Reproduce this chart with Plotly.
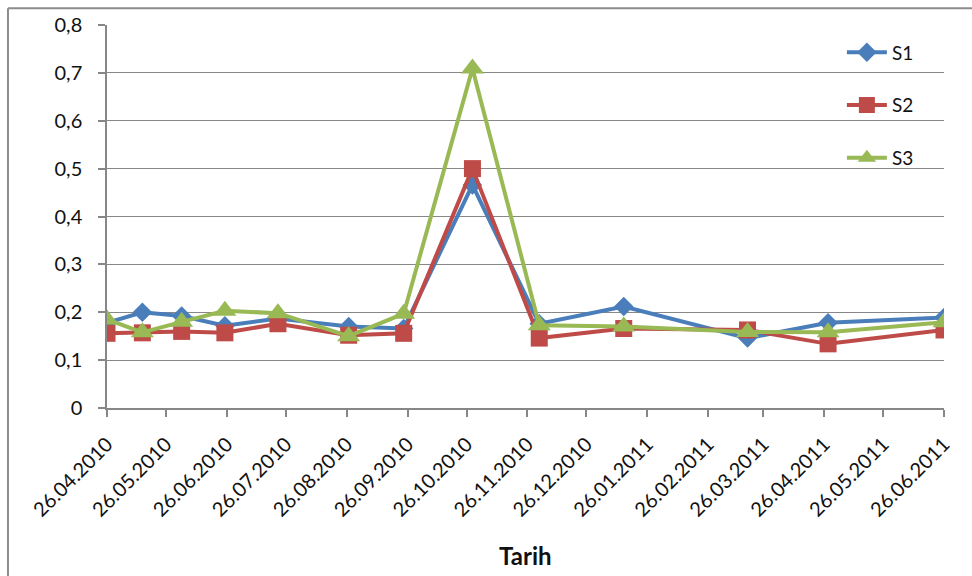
import plotly.graph_objects as go

# Sampling dates
dates = [
    "2010-04-26", "2010-05-14", "2010-06-03", "2010-06-25", "2010-07-22",
    "2010-08-27", "2010-09-24", "2010-10-29", "2010-12-02", "2011-01-14",
    "2011-03-18", "2011-04-28", "2011-06-26",
]

s1 = [0.178, 0.200, 0.192, 0.172, 0.187, 0.170, 0.166, 0.466, 0.176, 0.212, 0.146, 0.178, 0.189]
s2 = [0.156, 0.157, 0.160, 0.157, 0.176, 0.152, 0.156, 0.500, 0.146, 0.166, 0.163, 0.134, 0.163]
s3 = [0.185, 0.158, 0.180, 0.203, 0.198, 0.150, 0.197, 0.709, 0.173, 0.170, 0.159, 0.158, 0.179]

series_names = ["S1", "S2", "S3"]
colors = ["#4A7EBB", "#BE4B48", "#98B954"]
symbols = ["diamond", "square", "triangle-up"]
sizes = [15, 17, 20]

x_tick_dates = [
    "2010-04-26", "2010-05-26", "2010-06-26", "2010-07-26", "2010-08-26",
    "2010-09-26", "2010-10-26", "2010-11-26", "2010-12-26", "2011-01-26",
    "2011-02-26", "2011-03-26", "2011-04-26", "2011-05-26", "2011-06-26",
]
x_tick_labels = [
    "26.04.2010", "26.05.2010", "26.06.2010", "26.07.2010", "26.08.2010",
    "26.09.2010", "26.10.2010", "26.11.2010", "26.12.2010", "26.01.2011",
    "26.02.2011", "26.03.2011", "26.04.2011", "26.05.2011", "26.06.2011",
]
y_tick_vals = [0, 0.1, 0.2, 0.3, 0.4, 0.5, 0.6, 0.7, 0.8]
y_tick_labels = ["0", "0,1", "0,2", "0,3", "0,4", "0,5", "0,6", "0,7", "0,8"]

FONT = "Lato, 'Liberation Sans', sans-serif"
GRID = "#878787"

fig = go.Figure()
for name, vals, col, sym, sz in zip(series_names, [s1, s2, s3], colors, symbols, sizes):
    fig.add_trace(go.Scatter(
        x=dates, y=vals, name=name, mode="lines+markers",
        line=dict(color=col, width=4),
        marker=dict(symbol=sym, size=sz, color=col, line=dict(width=0)),
        legendgroup=name,
    ))

fig.update_layout(
    width=972, height=576,
    margin=dict(l=107, r=28, t=20, b=168),
    paper_bgcolor="white", plot_bgcolor="white",
    font=dict(family=FONT, color="#111111"),
    showlegend=True,
    legend=dict(
        x=0.878, y=0.978, xanchor="left", yanchor="top",
        bgcolor="rgba(0,0,0,0)", font=dict(size=19, family=FONT),
        tracegroupgap=25, itemwidth=40,
    ),
    xaxis=dict(
        type="date",
        range=["2010-04-26", "2011-06-26"],
        tickvals=x_tick_dates, ticktext=x_tick_labels,
        tickangle=-45, tickfont=dict(size=20, family=FONT),
        ticks="outside", ticklen=7, tickcolor=GRID, tickwidth=1.5,
        ticklabelstandoff=8,
        showline=True, linecolor=GRID, linewidth=1.5,
        showgrid=False, zeroline=False,
    ),
    yaxis=dict(
        range=[0, 0.8],
        tickvals=y_tick_vals, ticktext=y_tick_labels,
        tickfont=dict(size=20, family=FONT),
        ticks="outside", ticklen=7, tickcolor=GRID, tickwidth=1.5,
        ticklabelstandoff=12,
        showline=True, linecolor=GRID, linewidth=1.5,
        showgrid=True, gridcolor=GRID, gridwidth=1.2,
        zeroline=False,
    ),
    annotations=[dict(
        text="<b>Tarih</b>", x=0.5, y=-0.384, xref="paper", yref="paper",
        xanchor="center", yanchor="middle", showarrow=False,
        font=dict(size=24, family=FONT, color="#111111"),
    )],
    shapes=[
        dict(type="line", xref="paper", yref="paper",
             x0=-0.1183, x1=1.05, y0=1.0438, y1=1.0438,
             line=dict(color="#8C8C8C", width=2)),
        dict(type="line", xref="paper", yref="paper",
             x0=-0.1183, x1=-0.1183, y0=1.0438, y1=-0.45,
             line=dict(color="#8C8C8C", width=2)),
    ],
)

fig.write_html("out.html")
